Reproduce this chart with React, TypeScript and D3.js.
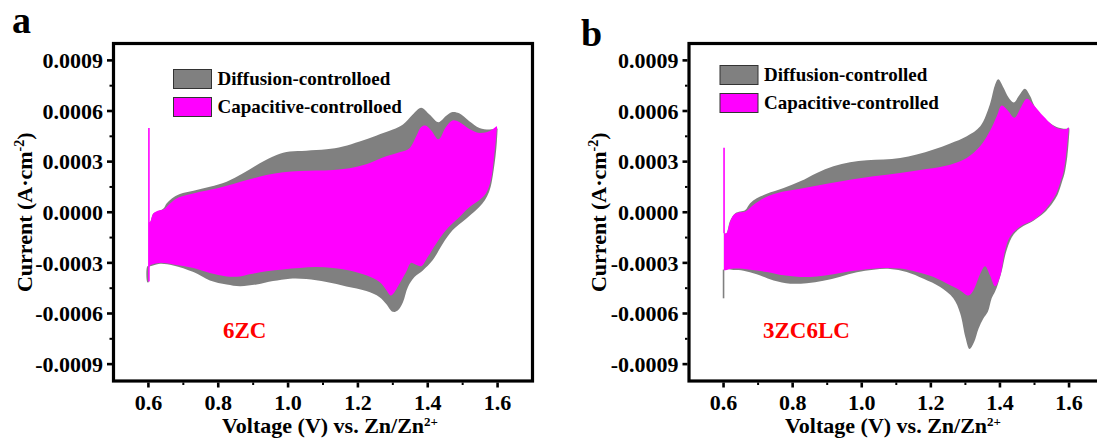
import React from "react";
import * as d3 from "d3";

// ---------- data (current in units of 1e-4 A·cm^-2, voltage in V) ----------
const X_TICKS = [0.6, 0.8, 1.0, 1.2, 1.4, 1.6];
const X_MINOR = [0.7, 0.9, 1.1, 1.3, 1.5];
const Y_TICKS = [-9, -6, -3, 0, 3, 6, 9];
const Y_MINOR = [-7.5, -4.5, -1.5, 1.5, 4.5, 7.5];
const UNIT = 1e-4;

// Panel a (6ZC)
const A_TOTAL_UP: [number, number][] = [
  [0.601, -0.6], [0.605, -0.58], [0.614, -0.08], [0.629, 0.06], [0.643, 0.22], [0.652, 0.52],
  [0.667, 0.82], [0.69, 1.08], [0.729, 1.27], [0.776, 1.51], [0.824, 1.81], [0.871, 2.31],
  [0.919, 2.9], [0.967, 3.4], [1.005, 3.6], [1.052, 3.65], [1.11, 3.73], [1.157, 3.9],
  [1.205, 4.2], [1.252, 4.54], [1.3, 4.9], [1.329, 5.2], [1.357, 5.8], [1.381, 6.2],
  [1.405, 5.8], [1.431, 5.34], [1.452, 5.7], [1.471, 5.94], [1.49, 5.86], [1.519, 5.4],
  [1.548, 5.0], [1.576, 4.9], [1.6, 4.95],
];
const A_TOTAL_DOWN: [number, number][] = [
  [1.6, 4.9], [1.598, 4.2], [1.594, 3.3], [1.588, 2.4], [1.58, 1.5], [1.57, 0.95], [1.556, 0.5],
  [1.538, 0.12], [1.51, -0.38], [1.471, -1.07], [1.443, -1.86], [1.414, -2.85], [1.386, -3.45],
  [1.362, -3.84], [1.343, -4.44], [1.329, -5.33], [1.314, -5.82], [1.3, -5.9], [1.281, -5.43],
  [1.262, -5.03], [1.224, -4.67], [1.167, -4.4], [1.11, -4.14], [1.052, -3.96], [1.005, -3.94],
  [0.957, -4.08], [0.91, -4.28], [0.862, -4.38], [0.824, -4.28], [0.776, -4.04], [0.729, -3.54],
  [0.671, -3.15], [0.633, -3.05], [0.605, -3.2], [0.597, -3.2], [0.597, -4.15], [0.601, -4.15],
];
const A_CAP_UP: [number, number][] = [
  [0.601, -0.6], [0.605, -0.58], [0.614, -0.08], [0.629, 0.1], [0.643, 0.16], [0.662, 0.52],
  [0.681, 0.82], [0.71, 1.02], [0.748, 1.22], [0.795, 1.41], [0.843, 1.67], [0.89, 1.95],
  [0.938, 2.21], [0.986, 2.37], [1.033, 2.45], [1.081, 2.47], [1.129, 2.51], [1.176, 2.61],
  [1.224, 2.85], [1.271, 3.25], [1.319, 3.55], [1.348, 3.8], [1.367, 4.5], [1.381, 5.05],
  [1.393, 5.14], [1.41, 4.85], [1.431, 4.32], [1.452, 5.05], [1.471, 5.44], [1.49, 5.35],
  [1.519, 4.94], [1.548, 4.7], [1.576, 4.8], [1.595, 5.06],
];
const A_CAP_DOWN: [number, number][] = [
  [1.598, 5.1], [1.597, 4.7], [1.59, 3.3], [1.581, 1.92], [1.567, 1.13], [1.548, 0.73],
  [1.519, 0.3], [1.49, -0.3], [1.452, -1.07], [1.424, -1.86], [1.4, -2.65], [1.381, -3.2],
  [1.365, -3.1], [1.352, -3.0], [1.338, -3.54], [1.319, -4.24], [1.295, -4.93], [1.281, -4.6],
  [1.262, -4.14], [1.224, -3.74], [1.176, -3.45], [1.129, -3.31], [1.081, -3.25], [1.033, -3.31],
  [0.986, -3.39], [0.938, -3.5], [0.89, -3.68], [0.862, -3.8], [0.824, -3.8], [0.776, -3.6],
  [0.729, -3.31], [0.671, -3.09], [0.633, -3.0], [0.61, -3.09], [0.603, -3.2], [0.601, -4.1],
];
// vertical switching spikes at 0.6 V: [voltage, from, to]
const A_CAP_SPIKE: [number, number, number] = [0.6, -4.1, 5.0];

// Panel b (3ZC6LC)
const B_TOTAL_UP: [number, number][] = [
  [0.601, -1.25], [0.608, -1.25], [0.619, -0.5], [0.634, -0.06], [0.648, 0.04], [0.663, 0.14],
  [0.677, 0.54], [0.696, 0.83], [0.725, 1.09], [0.774, 1.43], [0.822, 1.83], [0.87, 2.33],
  [0.918, 2.72], [0.966, 2.96], [1.015, 3.08], [1.063, 3.12], [1.111, 3.22], [1.159, 3.42],
  [1.208, 3.72], [1.256, 4.08], [1.304, 4.51], [1.343, 5.1], [1.371, 6.4], [1.385, 7.5],
  [1.395, 7.88], [1.41, 7.4], [1.425, 6.8], [1.44, 6.5], [1.455, 6.9], [1.472, 7.32],
  [1.487, 6.9], [1.5, 6.3], [1.526, 5.6], [1.564, 5.05], [1.593, 4.95], [1.6, 5.0],
];
const B_TOTAL_DOWN: [number, number][] = [
  [1.601, 4.9], [1.6, 4.5], [1.595, 3.31], [1.587, 2.3], [1.581, 1.9], [1.568, 1.1],
  [1.557, 0.7], [1.542, 0.28], [1.528, -0.03], [1.497, -0.5], [1.468, -0.82], [1.44, -1.3],
  [1.42, -2.2], [1.405, -3.5], [1.395, -4.2], [1.386, -4.7], [1.376, -5.1], [1.365, -5.9],
  [1.352, -6.3], [1.338, -6.9], [1.325, -7.7], [1.312, -8.1], [1.3, -7.4], [1.285, -6.0],
  [1.265, -5.1], [1.227, -4.43], [1.179, -3.94], [1.13, -3.54], [1.082, -3.36], [1.034, -3.4],
  [0.986, -3.56], [0.938, -3.82], [0.889, -4.06], [0.841, -4.2], [0.793, -4.23], [0.745, -4.04],
  [0.696, -3.68], [0.658, -3.46], [0.629, -3.42], [0.61, -3.38], [0.601, -3.42],
];
const B_CAP_UP: [number, number][] = [
  [0.601, -1.25], [0.608, -1.25], [0.619, -0.56], [0.629, -0.16], [0.643, -0.02], [0.663, 0.04],
  [0.687, 0.44], [0.716, 0.83], [0.754, 1.13], [0.822, 1.39], [0.899, 1.69], [0.966, 1.93],
  [1.034, 2.13], [1.111, 2.33], [1.188, 2.56], [1.256, 2.82], [1.304, 3.22], [1.343, 3.92],
  [1.371, 4.81], [1.391, 5.7], [1.405, 6.33], [1.422, 6.05], [1.442, 5.6], [1.46, 6.2],
  [1.478, 6.73], [1.5, 6.3], [1.526, 5.69], [1.564, 5.0], [1.593, 4.94], [1.598, 5.04],
];
const B_CAP_DOWN: [number, number][] = [
  [1.599, 4.9], [1.597, 4.5], [1.591, 3.31], [1.583, 2.3], [1.577, 1.92], [1.563, 1.1],
  [1.552, 0.73], [1.537, 0.3], [1.524, 0.0], [1.497, -0.46], [1.458, -0.86], [1.429, -1.45],
  [1.415, -2.25], [1.4, -3.84], [1.386, -4.39], [1.371, -3.74], [1.357, -3.2], [1.343, -3.64],
  [1.323, -4.63], [1.309, -4.93], [1.285, -4.63], [1.256, -4.33], [1.208, -3.84], [1.159, -3.54],
  [1.111, -3.34], [1.063, -3.3], [1.015, -3.38], [0.966, -3.5], [0.918, -3.68], [0.87, -3.8],
  [0.822, -3.84], [0.774, -3.74], [0.725, -3.54], [0.677, -3.4], [0.629, -3.34], [0.605, -3.44],
  [0.601, -3.44],
];
const B_CAP_SPIKE: [number, number, number] = [0.6, -1.25, 3.82];
const B_TOTAL_SPIKE: [number, number, number] = [0.6, -3.4, -5.1];

const LEGEND_A = ["Diffusion-controlloed", "Capacitive-controlloed"];
const LEGEND_B = ["Diffusion-controlled", "Capacitive-controlled"];

const GRAY = "#808080";
const MAGENTA = "#ff00ff";
const FONT = "'Liberation Serif','Times New Roman',serif";

type Pt = [number, number];

interface PanelProps {
  left: number;
  right: number;
  letter: string;
  letterX: number;
  letterY: number;
  totalUp: Pt[];
  totalDown: Pt[];
  capUp: Pt[];
  capDown: Pt[];
  capSpike: [number, number, number];
  totalSpike?: [number, number, number];
  legend: string[];
  legendX: number;
  legendY: number;
  sample: string;
  sampleX: number;
  titleX: number;
  yTitleX: number;
}

function Panel(p: PanelProps) {
  const top = 43.5;
  const bottom = 381;
  const x = d3.scaleLinear().domain([0.5, 1.7]).range([p.left, p.right]);
  const y = d3.scaleLinear().domain([-10, 10]).range([bottom, top]);
  const line = d3
    .line<Pt>()
    .x((d) => x(d[0]))
    .y((d) => y(d[1]))
    .curve(d3.curveCatmullRom.alpha(0.5));
  const loop = (up: Pt[], down: Pt[]) => (line([...up, ...down]) || "") + "Z";
  const fmt = (t: number) => (t * UNIT).toFixed(4);

  return (
    <g fontFamily={FONT} fontWeight="bold">
      <text x={p.letterX} y={p.letterY} fontSize={38}>
        {p.letter}
      </text>
      {/* data */}
      <path d={loop(p.totalUp, p.totalDown)} fill={GRAY} />
      {p.totalSpike && (
        <line
          x1={x(p.totalSpike[0])}
          x2={x(p.totalSpike[0])}
          y1={y(p.totalSpike[1])}
          y2={y(p.totalSpike[2])}
          stroke={GRAY}
          strokeWidth={1.6}
        />
      )}
      <path d={loop(p.capUp, p.capDown)} fill={MAGENTA} />
      <line
        x1={x(p.capSpike[0]) + 0.5}
        x2={x(p.capSpike[0]) + 0.5}
        y1={y(p.capSpike[1])}
        y2={y(p.capSpike[2])}
        stroke={MAGENTA}
        strokeWidth={1.6}
      />
      {/* frame */}
      <rect
        x={p.left}
        y={top}
        width={p.right - p.left}
        height={bottom - top}
        fill="none"
        stroke="#000"
        strokeWidth={3.2}
      />
      {/* y ticks */}
      {Y_TICKS.map((t) => (
        <g key={"y" + t}>
          <line x1={p.left - 1.5} x2={p.left - 6.5} y1={y(t)} y2={y(t)} stroke="#000" strokeWidth={2.6} />
          <text x={p.left - 10.5} y={y(t)} dy="0.35em" textAnchor="end" fontSize={22}>
            {fmt(t)}
          </text>
        </g>
      ))}
      {Y_MINOR.map((t) => (
        <line key={"ym" + t} x1={p.left - 1.5} x2={p.left - 4} y1={y(t)} y2={y(t)} stroke="#000" strokeWidth={2} />
      ))}
      {/* x ticks */}
      {X_TICKS.map((t) => (
        <g key={"x" + t}>
          <line x1={x(t)} x2={x(t)} y1={bottom + 1.5} y2={bottom + 6.5} stroke="#000" strokeWidth={2.6} />
          <text x={x(t)} y={bottom + 28.5} textAnchor="middle" fontSize={22}>
            {t.toFixed(1)}
          </text>
        </g>
      ))}
      {X_MINOR.map((t) => (
        <line key={"xm" + t} x1={x(t)} x2={x(t)} y1={bottom + 1.5} y2={bottom + 4} stroke="#000" strokeWidth={2} />
      ))}
      {/* axis titles */}
      <text x={p.titleX} y={433} fontSize={22}>
        Voltage (V) vs. Zn/Zn
        <tspan dy={-7} fontSize={13}>
          2+
        </tspan>
      </text>
      <text
        transform={`translate(${p.yTitleX},${(top + bottom) / 2}) rotate(-90)`}
        textAnchor="middle"
        fontSize={22}
      >
        Current (A·cm
        <tspan dy={-8} fontSize={14}>
          -2
        </tspan>
        <tspan dy={8} fontSize={22}>
          )
        </tspan>
      </text>
      {/* legend */}
      <rect x={p.legendX} y={p.legendY} width={38} height={19} fill={GRAY} stroke="#333" strokeWidth={1} />
      <rect x={p.legendX} y={p.legendY + 28} width={38} height={19} fill={MAGENTA} stroke="#333" strokeWidth={1} />
      <text x={p.legendX + 44} y={p.legendY + 15.5} fontSize={19}>
        {p.legend[0]}
      </text>
      <text x={p.legendX + 44} y={p.legendY + 43} fontSize={19}>
        {p.legend[1]}
      </text>
      {/* sample */}
      <text x={p.sampleX} y={338} fontSize={23} fill="#ff0000">
        {p.sample}
      </text>
    </g>
  );
}

export default function App() {
  return (
    <svg
      width={1097}
      height={443}
      style={{ position: "absolute", left: 0, top: 0, background: "#fff" }}
    >
      <rect width={1097} height={443} fill="#fff" />
      <Panel
        left={113.5}
        right={532.5}
        letter="a"
        letterX={12}
        letterY={33}
        totalUp={A_TOTAL_UP}
        totalDown={A_TOTAL_DOWN}
        capUp={A_CAP_UP}
        capDown={A_CAP_DOWN}
        capSpike={A_CAP_SPIKE}
        legend={LEGEND_A}
        legendX={173.5}
        legendY={69.5}
        sample="6ZC"
        sampleX={223}
        titleX={222}
        yTitleX={32}
      />
      <Panel
        left={689}
        right={1103.6}
        letter="b"
        letterX={581}
        letterY={46}
        totalUp={B_TOTAL_UP}
        totalDown={B_TOTAL_DOWN}
        capUp={B_CAP_UP}
        capDown={B_CAP_DOWN}
        capSpike={B_CAP_SPIKE}
        totalSpike={B_TOTAL_SPIKE}
        legend={LEGEND_B}
        legendX={720}
        legendY={65.5}
        sample="3ZC6LC"
        sampleX={763}
        titleX={785}
        yTitleX={606}
      />
    </svg>
  );
}
